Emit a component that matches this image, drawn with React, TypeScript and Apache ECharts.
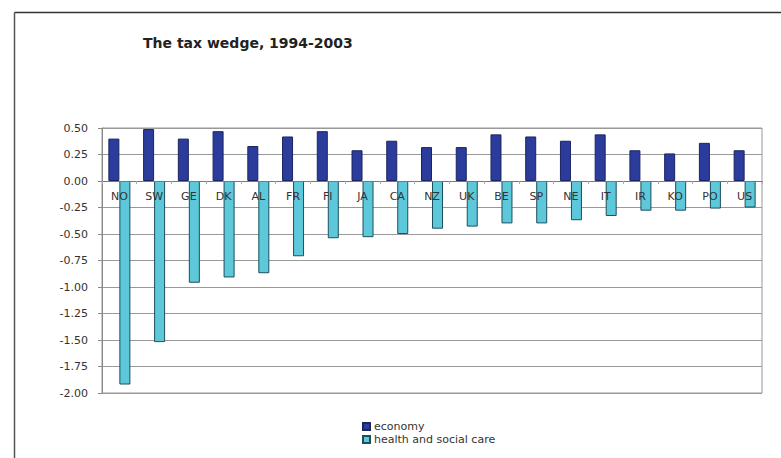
import React, { useEffect, useRef } from "react";
import * as echarts from "echarts";

const categories = ["NO", "SW", "GE", "DK", "AL", "FR", "FI", "JA", "CA", "NZ", "UK", "BE", "SP", "NE", "IT", "IR", "KO", "PO", "US"];
const economy = [0.40, 0.49, 0.40, 0.47, 0.33, 0.42, 0.47, 0.29, 0.38, 0.32, 0.32, 0.44, 0.42, 0.38, 0.44, 0.29, 0.26, 0.36, 0.29];
const healthSocialCare = [-1.92, -1.52, -0.96, -0.91, -0.87, -0.71, -0.54, -0.53, -0.50, -0.45, -0.43, -0.40, -0.40, -0.37, -0.33, -0.28, -0.28, -0.26, -0.25];
const titleText = "The tax wedge, 1994-2003";
const seriesNames = ["economy", "health and social care"];

const Y_MIN = -2;
const Y_MAX = 0.5;
const GRID_TOP = 128;
const GRID_BOTTOM = 65;
const CHART_H = 458;

export default function App() {
  const ref = useRef<HTMLDivElement>(null);
  useEffect(() => {
    if (!ref.current) return;
    const chart = echarts.init(ref.current, null, { renderer: "svg" });
    const font = "'DejaVu Sans', Arial, sans-serif";
    const gridH = CHART_H - GRID_TOP - GRID_BOTTOM;
    const zeroOffset = -gridH * (0 - Y_MIN) / (Y_MAX - Y_MIN);
    chart.setOption({
      animation: false,
      backgroundColor: "#ffffff",
      textStyle: { fontFamily: font },
      title: {
        text: titleText,
        left: 143,
        top: 36,
        padding: 0,
        textStyle: { fontSize: 14, fontWeight: "bold", color: "#222", fontFamily: font },
      },
      graphic: [
        { type: "line", shape: { x1: 14.5, y1: 12.5, x2: 781, y2: 12.5 }, style: { stroke: "#333", lineWidth: 1.5 } },
        { type: "line", shape: { x1: 14.5, y1: 12.5, x2: 14.5, y2: 458 }, style: { stroke: "#555", lineWidth: 1.5 } },
      ],
      legend: {
        orient: "vertical",
        left: 362,
        top: 421,
        itemWidth: 7,
        itemHeight: 7,
        itemGap: 2,
        icon: "rect",
        padding: 0,
        textStyle: { fontSize: 11, color: "#333", padding: [0, 0, 0, -1], fontFamily: font },
        data: seriesNames,
      },
      grid: {
        left: 102,
        top: GRID_TOP,
        right: 19,
        bottom: GRID_BOTTOM,
        show: true,
        borderColor: "#999",
        borderWidth: 1,
        backgroundColor: "#fff",
      },
      xAxis: {
        type: "category",
        data: categories,
        position: "bottom",
        offset: zeroOffset,
        axisLine: { onZero: false, lineStyle: { color: "#777", width: 1 } },
        axisTick: { show: true, length: 3, lineStyle: { color: "#aaa" } },
        axisLabel: { margin: 10, fontSize: 11, color: "#333", fontFamily: font },
        z: 5,
      },
      yAxis: {
        type: "value",
        min: Y_MIN,
        max: Y_MAX,
        interval: 0.25,
        axisLine: { show: true, lineStyle: { color: "#888" } },
        axisTick: { show: true, length: 4, lineStyle: { color: "#888" } },
        axisLabel: {
          fontSize: 11,
          color: "#333",
          margin: 14,
          fontFamily: font,
          formatter: (v: number) => v.toFixed(2),
        },
        splitLine: { show: true, lineStyle: { color: "#999", width: 1 } },
      },
      series: [
        {
          name: seriesNames[0],
          type: "bar",
          data: economy,
          barWidth: 11,
          barGap: "0%",
          itemStyle: { color: "#2c3c9c", borderColor: "#1a2460", borderWidth: 1 },
        },
        {
          name: seriesNames[1],
          type: "bar",
          data: healthSocialCare,
          barWidth: 11,
          barGap: "0%",
          itemStyle: { color: "#5cc8da", borderColor: "#1d4f5c", borderWidth: 1 },
        },
      ],
    });
    return () => chart.dispose();
  }, []);
  return (
    <div
      ref={ref}
      style={{ position: "fixed", left: 0, top: 0, width: 781, height: 458 }}
    />
  );
}
